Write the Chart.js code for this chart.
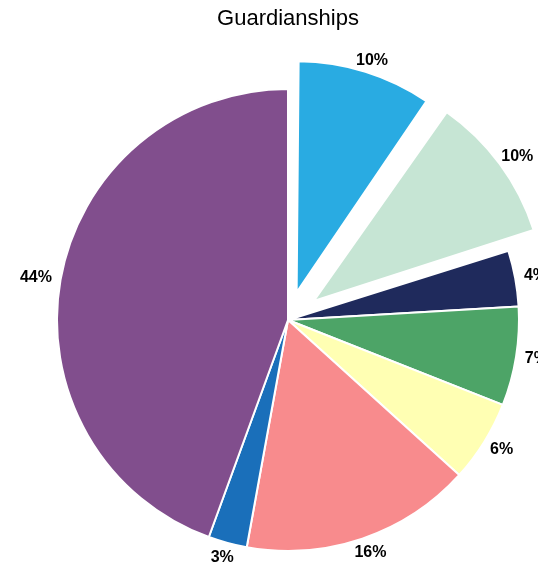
<!DOCTYPE html>
<html>
<head>
<meta charset="utf-8">
<script src="https://cdn.jsdelivr.net/npm/chart.js@4"></script>
<style>
  html, body { margin: 0; padding: 0; background: #fff; }
  #wrap { width: 538px; height: 570px; }
</style>
</head>
<body>
<div id="wrap"><canvas id="pieChart"></canvas></div>
<script>
const categories = ['A', 'B', 'C', 'D', 'E', 'F', 'G', 'H'];
const shares = [9.6, 10.5, 3.9, 6.9, 5.7, 16.1, 2.7, 44.3];
const pctLabels = ['10%', '10%', '4%', '7%', '6%', '16%', '3%', '44%'];
const colors = ['#29ABE2', '#C6E5D4', '#1F2A5C', '#4DA467', '#FFFFB3', '#F88B8D', '#1A6FBA', '#814E8D'];
const explode = [29, 32, 0, 0, 0, 0, 0, 0];   // pixels each slice is pulled out
const pieRadius = 231;

// Chart.js translates an arc by offset/4 and also grows its radius by (offset/4)*(1-sin(angle));
// undo the radius growth so exploded slices keep the same size
const keepRadius = {
  id: 'keepRadius',
  afterDatasetUpdate(chart) {
    const meta = chart.getDatasetMeta(0);
    meta.data.forEach((arc, i) => {
      const fix = 1 - Math.sin(Math.min(Math.PI, arc.circumference));
      arc.outerRadius = pieRadius - explode[i] * fix;
    });
  }
};

// percentage labels just outside each slice
const outsideLabels = {
  id: 'outsideLabels',
  afterDatasetsDraw(chart) {
    const ctx = chart.ctx;
    const meta = chart.getDatasetMeta(0);
    ctx.save();
    ctx.font = 'bold 16px "Liberation Sans", Arial, sans-serif';
    ctx.fillStyle = '#000';
    ctx.textAlign = 'center';
    ctx.textBaseline = 'middle';
    meta.data.forEach((arc, i) => {
      const mid = (arc.startAngle + arc.endAngle) / 2;
      const dx = Math.cos(mid), dy = Math.sin(mid);
      const r = pieRadius + explode[i] * 0.9 + 9;
      const hw = ctx.measureText(pctLabels[i]).width / 2, hh = 6;
      ctx.fillText(pctLabels[i], arc.x + dx * r + dx * hw, arc.y + dy * r + dy * hh);
    });
    ctx.restore();
  }
};

new Chart(document.getElementById('pieChart'), {
  type: 'pie',
  data: {
    labels: categories,
    datasets: [{
      data: shares,
      backgroundColor: colors,
      borderColor: '#fff',
      borderWidth: 2,
      offset: explode.map(v => v * 4),
      hoverOffset: 0
    }]
  },
  options: {
    responsive: true,
    maintainAspectRatio: false,
    animation: false,
    radius: pieRadius,
    layout: { padding: { left: 42, right: 4, top: 0, bottom: 4 } },
    plugins: {
      legend: { display: false },
      tooltip: { enabled: false },
      title: {
        display: true,
        text: 'Guardianships',
        color: '#000',
        font: { family: '"Liberation Sans", Arial, sans-serif', size: 22, weight: 'normal' },
        padding: { top: 6, bottom: 41.6 }
      }
    }
  },
  plugins: [keepRadius, outsideLabels]
});
</script>
</body>
</html>
